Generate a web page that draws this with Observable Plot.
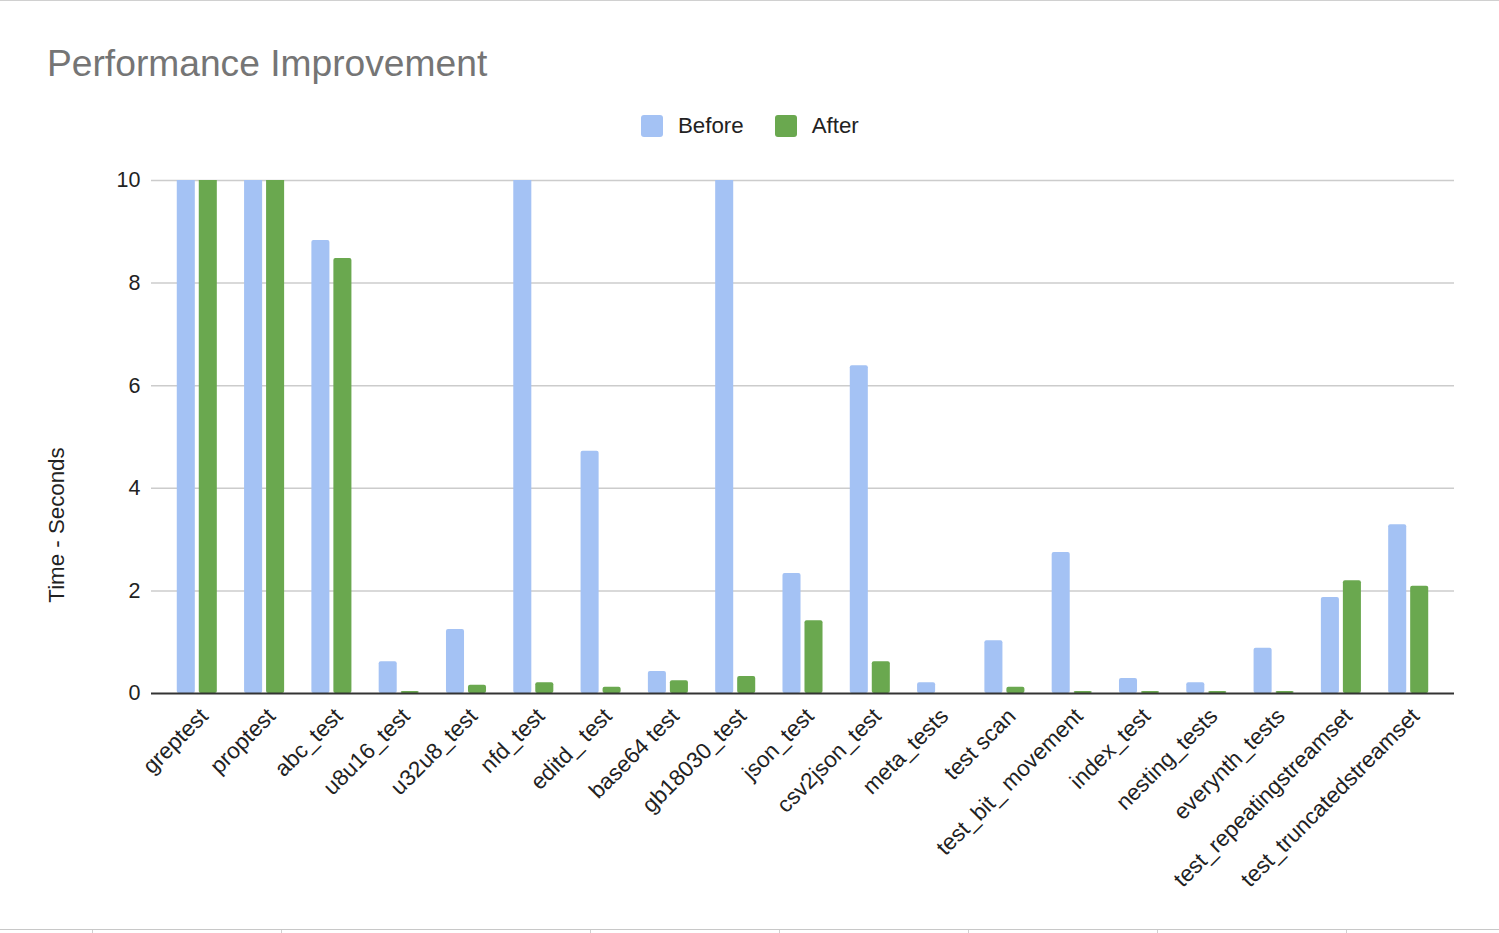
<!DOCTYPE html>
<html>
<head>
<meta charset="utf-8">
<script src="https://cdn.jsdelivr.net/npm/d3@7"></script>
<script src="https://cdn.jsdelivr.net/npm/@observablehq/plot@0.6"></script>
<style>
  html, body { margin: 0; padding: 0; background: #fff; }
  body { width: 1499px; height: 933px; overflow: hidden; font-family: "Liberation Sans", Arial, sans-serif; }
  #wrap { position: relative; width: 1499px; height: 933px; }
  #title { position: absolute; left: 47px; top: 42px; font-size: 37.2px; color: #757575; white-space: nowrap; }
  #legend { position: absolute; top: 113px; left: 641px; display: flex; align-items: center; font-size: 22.3px; color: #222; }
  .sw { width: 22px; height: 22px; border-radius: 3px; display: inline-block; }
  .item { display: flex; align-items: center; }
  .item span.t { margin-left: 15px; }
  #ylabel { position: absolute; left: 57px; top: 525px; transform: translate(-50%, -50%) rotate(-90deg); font-size: 22.3px; color: #222; white-space: nowrap; }
  #chart { position: absolute; left: 0; top: 0; }
  #topline { position: absolute; left: 0; top: 0; width: 1499px; height: 1px; background: #d0d0d0; }
  #botline { position: absolute; left: 0; top: 929px; width: 1499px; height: 1px; background: #c8c8c8; }
  .bt { position: absolute; top: 930px; width: 1px; height: 3px; background: #d0d0d0; }
</style>
</head>
<body>
<div id="wrap">
  <div id="chart"></div>
  <div id="topline"></div>
  <div id="botline"></div>
  <div id="title">Performance Improvement</div>
  <div id="legend"></div>
  <div id="ylabel">Time - Seconds</div>
</div>
<script>
const categories = ["greptest", "proptest", "abc_test", "u8u16_test", "u32u8_test", "nfd_test", "editd_ test", "base64 test", "gb18030_test", "json_test", "csv2json_test", "meta_tests", "test scan", "test_bit_ movement", "index_test", "nesting_tests", "everynth_tests", "test_repeatingstreamset", "test_truncatedstreamset"];
// values above 10 are cut off by the chart's axis maximum
const before = [12, 12, 8.83, 0.62, 1.25, 12, 4.72, 0.43, 12, 2.34, 6.39, 0.21, 1.03, 2.75, 0.29, 0.21, 0.88, 1.87, 3.29];
const after = [12, 12, 8.48, 0.04, 0.16, 0.21, 0.12, 0.25, 0.33, 1.42, 0.62, 0, 0.12, 0.04, 0.04, 0.04, 0.04, 2.2, 2.09];
const seriesNames = ["Before", "After"];
const seriesColors = ["#a4c2f4", "#6aa84f"];
const yTicks = [0, 2, 4, 6, 8, 10];
const bottomTicks = [92, 281, 590, 779, 968, 1157, 1346];

const beforeRows = categories.map((c, i) => ({test: c, value: before[i]}));
const afterRows = categories.map((c, i) => ({test: c, value: after[i]}));

// legend
const legend = document.getElementById("legend");
seriesNames.forEach((s, i) => {
  const it = document.createElement("div");
  it.className = "item";
  if (i > 0) it.style.marginLeft = "31px";
  it.innerHTML = `<span class="sw" style="background:${seriesColors[i]}"></span><span class="t">${s}</span>`;
  legend.appendChild(it);
});
bottomTicks.forEach(x => {
  const d = document.createElement("div");
  d.className = "bt"; d.style.left = x + "px";
  document.getElementById("wrap").appendChild(d);
});

const chart = Plot.plot({
  width: 1499,
  height: 933,
  marginTop: 180,
  marginBottom: 240,
  marginLeft: 151,
  marginRight: 45,
  style: {fontFamily: "Liberation Sans, Arial, sans-serif", fontSize: "22px", color: "#222", background: "transparent", overflow: "visible"},
  x: {domain: categories, paddingInner: 0.405, paddingOuter: 0.383, round: false, label: null},
  y: {domain: [0, 10], ticks: yTicks, label: null},
  marks: [
    Plot.ruleY(yTicks.filter(t => t > 0), {stroke: "#cccccc", strokeWidth: 1.5}),
    Plot.barY(beforeRows, {x: "test", y: "value", fill: seriesColors[0], insetRight: 22, rx: 2, clip: true}),
    Plot.barY(afterRows, {x: "test", y: "value", fill: seriesColors[1], insetLeft: 22, rx: 2, clip: true}),
    Plot.ruleY([0], {stroke: "#333333", strokeWidth: 2}),
    Plot.axisY({ticks: yTicks, tickSize: 0, tickPadding: 11, tickFormat: d => String(d), label: null, fontSize: 21.5}),
    Plot.axisX({tickRotate: -45, tickSize: 0, tickPadding: 8, label: null, fontSize: 22.5, dx: 7, dy: 11})
  ]
});
document.getElementById("chart").appendChild(chart);
</script>
</body>
</html>
